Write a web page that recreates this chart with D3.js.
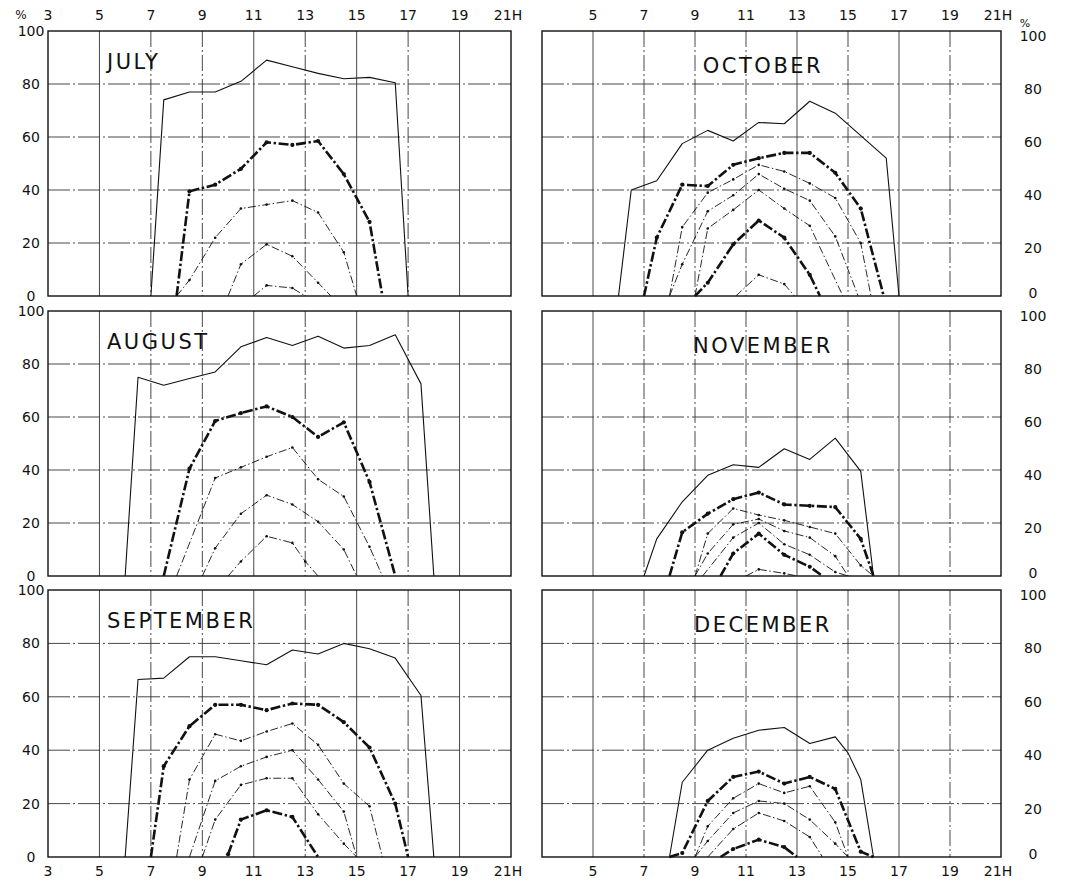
<!DOCTYPE html>
<html>
<head>
<meta charset="utf-8">
<script src="https://cdn.jsdelivr.net/npm/d3@7"></script>
<style>
  html, body { margin: 0; padding: 0; background: #fff; }
  svg text { font-family: "DejaVu Sans", "Liberation Sans", sans-serif; fill: #111; }
</style>
</head>
<body>
<svg id="chart" width="1073" height="888"></svg>
<script>
// axis ticks
var hourTicks = [3, 5, 7, 9, 11, 13, 15, 17, 19, 21];
var pctTicks = [0, 20, 40, 60, 80, 100];
var months = ['JULY', 'AUGUST', 'SEPTEMBER', 'OCTOBER', 'NOVEMBER', 'DECEMBER'];

// each month: list of curves, [hour, percent] pairs
// first curve is the upper envelope, then the thresholds from high to low
var july = [
  [[7,0],[7.5,74],[8.5,77],[9.5,77],[10.5,81],[11.5,89],[12.5,86.5],[13.5,84],[14.5,82],[15.5,82.5],[16.5,80.5],[17,0]],
  [[8,0],[8.5,39.5],[9.5,42],[10.5,48],[11.5,58],[12.5,57],[13.5,58.5],[14.5,46],[15.5,28],[16,0]],
  [[8,0],[8.5,6],[9.5,22],[10.5,33],[11.5,34.5],[12.5,36],[13.5,31.5],[14.5,16.5],[15,0]],
  [[10,0],[10.5,12],[11.5,19.5],[12.5,15],[13.5,5],[14,0]],
  [[11,0],[11.5,4],[12.5,3],[13,0]]
];
var august = [
  [[6,0],[6.5,75],[7.5,72],[8.5,74.5],[9.5,77],[10.5,86.5],[11.5,90],[12.5,87],[13.5,90.5],[14.5,86],[15.5,87],[16.5,91],[17.5,72.5],[18,0]],
  [[7.5,0],[8.5,40.5],[9.5,58.5],[10.5,61.5],[11.5,64],[12.5,60],[13.5,52.5],[14.5,58],[15.5,35.5],[16.5,0]],
  [[8,0],[9.5,37],[10.5,41],[11.5,45],[12.5,48.5],[13.5,36.5],[14.5,30],[15.5,11],[16,0]],
  [[9,0],[9.5,10.5],[10.5,23.5],[11.5,30.5],[12.5,27],[13.5,20.5],[14.5,10],[15,0]],
  [[10,0],[10.5,5.5],[11.5,15],[12.5,12.5],[13,5.5],[13.5,0]]
];
var september = [
  [[6,0],[6.5,66.5],[7.5,67],[8.5,75],[9.5,75],[10.5,73.5],[11.5,72],[12.5,77.5],[13.5,76],[14.5,80],[15.5,78],[16.5,74.5],[17.5,60.5],[18,0]],
  [[7,0],[7.5,34],[8.5,49],[9.5,57],[10.5,57],[11.5,55],[12.5,57.5],[13.5,57],[14.5,50.5],[15.5,41],[16.5,20],[17,0]],
  [[8,0],[8.5,29],[9.5,46],[10.5,43.5],[11.5,47],[12.5,50],[13.5,42],[14.5,27.5],[15.5,19],[16,0]],
  [[8.5,0],[9.5,28.5],[10.5,34],[11.5,37.5],[12.5,40],[13.5,29],[14.5,17],[15,0]],
  [[9,0],[9.5,14],[10.5,27],[11.5,29.5],[12.5,29.5],[13.5,16],[14.5,5],[15,0]],
  [[10,1],[10.5,14],[11.5,17.5],[12.5,15],[13.5,0]]
];
var october = [
  [[6,0],[6.5,40],[7.5,43.5],[8.5,57.5],[9.5,62.5],[10.5,58.5],[11.5,65.5],[12.5,65],[13.5,73.5],[14.5,69],[15.5,60.5],[16.5,52],[17,0]],
  [[7,0],[7.5,22],[8.5,42],[9.5,41.5],[10.5,49.5],[11.5,52],[12.5,54],[13.5,54],[14.5,46.5],[15.5,33],[16.4,0]],
  [[8,0],[8.5,26],[9.5,39],[10.5,44],[11.5,49.5],[12.5,47],[13.5,42.5],[14.5,37],[15.5,20],[15.9,0]],
  [[8,0],[8.5,12],[9.5,32],[10.5,38],[11.5,46],[12.5,40.5],[13.5,36],[14.5,22.5],[15.4,0]],
  [[9,0],[9.5,25.5],[10.5,32.5],[11.5,40],[12.5,33],[13.5,26.5],[14.8,0]],
  [[9,0],[9.5,5],[10.5,19.5],[11.5,28.5],[12.5,22],[13.5,8],[13.9,0]],
  [[10.6,0],[11.5,8],[12.5,4.5],[12.9,0]]
];
var november = [
  [[7,0],[7.5,14],[8.5,28],[9.5,38],[10.5,42],[11.5,41],[12.5,48],[13.5,44],[14.5,52],[15.5,39.5],[16,0]],
  [[8,0],[8.5,16.5],[9.5,23.5],[10.5,29],[11.5,31.5],[12.5,27],[13.5,26.5],[14.5,26],[15.5,14],[16,0]],
  [[9,0],[9.5,16],[10.5,25.5],[11.5,23],[12.5,21],[13.5,18.5],[14.5,16],[15.5,4],[16,0]],
  [[9,0],[9.5,8.5],[10.5,19.5],[11.5,21.5],[12.5,17],[13.5,14.5],[14.5,7.5],[15,0]],
  [[9.3,0],[10.5,14.5],[11.5,20],[12.5,12],[13.5,8],[14.5,1.5],[15,0]],
  [[10,0],[10.5,8.5],[11.5,16],[12.5,8],[13.5,3.5],[14,0]],
  [[11,0],[11.5,2.5],[12.5,1],[13,0]]
];
var december = [
  [[8,0],[8.5,28],[9,34],[9.5,40],[10.5,44.5],[11.5,47.5],[12.5,48.5],[13.5,42.5],[14.5,45],[15,39],[15.5,29],[16,0]],
  [[8,0],[8.5,1.5],[9.5,21],[10.5,30],[11.5,32],[12.5,27.5],[13.5,30],[14.5,25.5],[15.5,2],[16,0]],
  [[9,0],[9.5,11.5],[10.5,22],[11.5,27.5],[12.5,24],[13.5,26.5],[14.5,13],[15,0]],
  [[9,0],[9.5,6],[10.5,16.5],[11.5,21],[12.5,20],[13.5,14],[14.5,5],[15,0]],
  [[9.5,0],[10.5,10.5],[11.5,16.5],[12.5,13.5],[13.5,7.5],[14,0]],
  [[10,0],[10.5,3],[11.5,6.5],[12.5,3.7],[13,0]]
];

var monthData = [july, august, september, october, november, december];

///////////////////////////////////////////////////////////////////////////////
// LAYOUT

var svg = d3.select('#chart');
var cols = [{x0: 48, x1: 511}, {x0: 542, x1: 1001}];
var rows = [{y0: 31, y1: 296}, {y0: 311, y1: 576}, {y0: 590, y1: 857}];

// which vertical grid lines look solid in the scan
var solidVert = [[5, 11, 15, 19], [5, 13, 17]];

// curve style by rank: 0 envelope, thick ones at 1 and 5
function curveStyle(i) {
  if (i === 0) return {w: 1.1, dash: null, r: 0};
  if (i === 1 || i === 5) return {w: 2.6, dash: '10,2.6,2.4,2.6', r: 2.1};
  return {w: 0.9, dash: '8,2.5,1.5,2.5', r: 1.3};
}

function hourLabel(h) { return h === 21 ? '21H' : String(h); }

monthData.forEach(function(curves, m) {
  var c = Math.floor(m / 3), r = m % 3;
  var col = cols[c], row = rows[r];
  var x = d3.scaleLinear().domain([3, 21]).range([col.x0, col.x1]);
  var y = d3.scaleLinear().domain([0, 100]).range([row.y1, row.y0]);
  var g = svg.append('g');

  // grid
  g.selectAll('line.vg')
    .data(hourTicks.slice(1, -1))
    .enter().append('line')
    .attr('x1', function(d) { return x(d); })
    .attr('x2', function(d) { return x(d); })
    .attr('y1', row.y0).attr('y2', row.y1)
    .style('stroke', '#333')
    .style('stroke-width', 0.9)
    .style('stroke-dasharray', function(d) { return solidVert[c].indexOf(d) >= 0 ? null : '16,3,2,3'; });
  g.selectAll('line.hg')
    .data(pctTicks.slice(1, -1))
    .enter().append('line')
    .attr('x1', col.x0).attr('x2', col.x1)
    .attr('y1', function(d) { return y(d); })
    .attr('y2', function(d) { return y(d); })
    .style('stroke', '#333')
    .style('stroke-width', 0.9)
    .style('stroke-dasharray', '22,3,2,3');

  // frame
  g.append('rect')
    .attr('x', col.x0).attr('y', row.y0)
    .attr('width', col.x1 - col.x0).attr('height', row.y1 - row.y0)
    .style('fill', 'none').style('stroke', '#111').style('stroke-width', 1.4);

  // curves
  var line = d3.line()
    .x(function(d) { return x(d[0]); })
    .y(function(d) { return y(d[1]); });
  curves.forEach(function(pts, i) {
    var st = curveStyle(i);
    g.append('path')
      .attr('d', line(pts))
      .style('fill', 'none')
      .style('stroke', '#111')
      .style('stroke-width', st.w)
      .style('stroke-linejoin', 'round')
      .style('stroke-dasharray', st.dash);
    if (st.r > 0) {
      g.selectAll(null)
        .data(pts.filter(function(d) { return d[1] > 0; }))
        .enter().append('circle')
        .attr('cx', function(d) { return x(d[0]); })
        .attr('cy', function(d) { return y(d[1]); })
        .attr('r', st.r)
        .style('fill', '#111');
    }
  });

  // month name
  g.append('text')
    .attr('x', c === 0 ? col.x0 + 59 : col.x0 + 221)
    .attr('y', row.y0 + (c === 0 ? 38 : 42))
    .attr('text-anchor', c === 0 ? 'start' : 'middle')
    .style('font-size', '21px')
    .style('letter-spacing', '2.5px')
    .text(months[m]);

  // percent labels; the right ones sit a little below their lines in the scan
  g.selectAll('text.yl')
    .data(pctTicks)
    .enter().append('text')
    .attr('x', c === 0 ? 31 : 1033)
    .attr('y', function(d) {
      if (c === 0) return y(d) + 5;
      return y(d) + (d === 0 ? 2 : 10);
    })
    .attr('text-anchor', 'middle')
    .style('font-size', '14px')
    .text(function(d) { return d; });

  // hour labels on top and bottom
  var hours = c === 0 ? hourTicks : hourTicks.slice(1);
  if (r === 0 || r === 2) {
    g.selectAll('text.xl')
      .data(hours)
      .enter().append('text')
      .attr('x', function(d) { return x(d) + (d === 21 ? -3 : 0); })
      .attr('y', r === 0 ? 20 : 876)
      .attr('text-anchor', 'middle')
      .style('font-size', '14px')
      .text(hourLabel);
  }
});

// percent signs
svg.append('text').attr('x', 21).attr('y', 19).attr('text-anchor', 'middle')
  .style('font-size', '12px').text('%');
svg.append('text').attr('x', 1025).attr('y', 27).attr('text-anchor', 'middle')
  .style('font-size', '11px').text('%');
</script>
</body>
</html>
